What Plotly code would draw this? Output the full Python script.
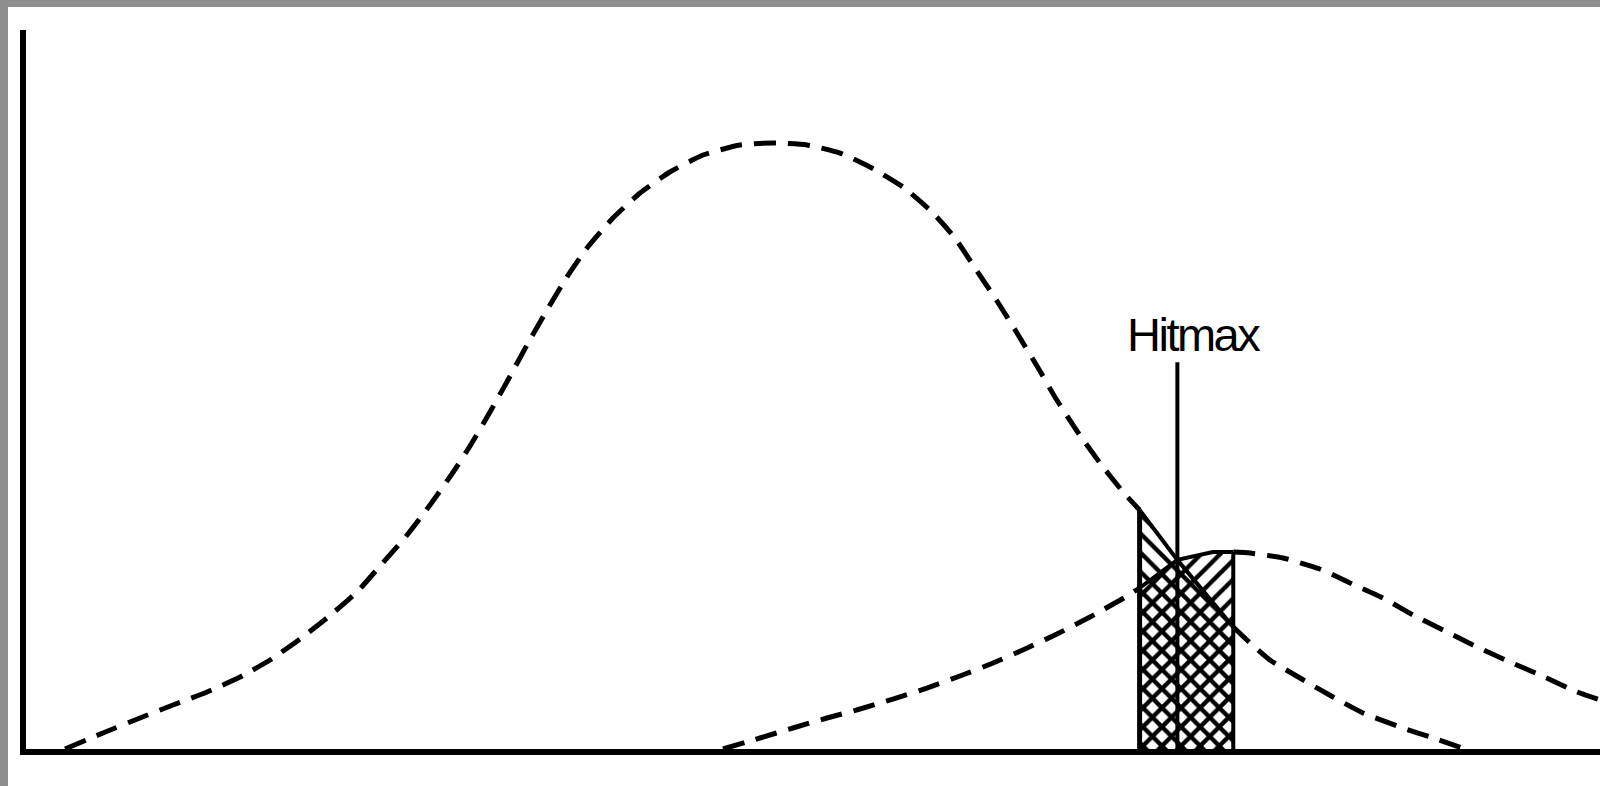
import numpy as np
import plotly.graph_objects as go

# Score distributions (arbitrary units): non-masters (left) and masters (right)
nonmaster_x = [2.48, 4.89, 7.24, 9.34, 11.50, 13.60, 15.50, 17.41, 19.12, 21.03, 22.49,
               24.21, 25.67, 27.06, 28.21, 29.48, 30.62, 31.83, 33.10, 34.37, 35.64,
               37.29, 39.01, 40.91, 43.01, 45.36, 47.46, 49.62, 51.72, 53.62, 55.72,
               57.56, 59.02, 60.29, 61.69, 62.96, 64.23, 65.37, 66.77, 68.23, 69.70,
               70.75, 73.15, 76.70, 77.57, 79.03, 80.94, 83.04, 84.94, 87.48, 89.20, 91.42]
nonmaster_y = [0.0, 2.23, 4.31, 6.12, 7.93, 10.01, 12.38, 15.30, 18.22, 21.84, 25.45,
               29.76, 33.94, 38.25, 42.14, 46.87, 51.32, 56.19, 61.06, 65.65, 69.68,
               73.85, 77.33, 80.25, 82.61, 84.01, 84.28, 84.01, 82.89, 80.95, 78.16,
               74.69, 71.07, 66.90, 62.31, 57.86, 53.27, 48.96, 44.23, 39.78, 35.74,
               33.24, 26.30, 16.97, 15.16, 12.38, 9.87, 7.23, 5.01, 2.92, 1.67, 0.0]

master_x = [44.28, 46.63, 48.73, 50.89, 52.99, 55.08, 57.24, 59.34, 61.44, 63.47, 65.50,
            67.60, 69.63, 70.75, 73.15, 75.41, 76.70, 77.76, 79.86, 82.21, 84.12, 86.21,
            88.12, 90.28, 92.19, 94.28, 96.19, 98.54, 100.0]
master_y = [0.0, 1.53, 2.92, 4.31, 5.56, 6.95, 8.48, 10.15, 11.96, 13.91, 15.99,
            18.36, 20.86, 22.39, 26.30, 27.40, 27.40, 27.26, 26.56, 25.03, 23.09, 21.00,
            18.64, 16.27, 14.19, 12.10, 10.29, 7.93, 6.82]

# Cut-score band and the Hitmax point
band_lo = 70.75
band_hi = 76.70
hitmax_x = 73.15
hitmax_top = 53.8
hitmax_label = "Hitmax"

nx, ny = np.array(nonmaster_x), np.array(nonmaster_y)
mx, my = np.array(master_x), np.array(master_y)

BLACK = "black"
DASH = "22px,12px"

fig = go.Figure()


def dashed(x, y):
    fig.add_trace(go.Scatter(x=x, y=y, mode="lines",
                             line=dict(color=BLACK, width=5, dash=DASH,
                                       shape="spline", smoothing=0.5),
                             hoverinfo="skip", showlegend=False))


# dashed parts of both curves outside the band
dashed(nx[nx <= band_lo], ny[nx <= band_lo])
dashed(nx[nx >= band_hi], ny[nx >= band_hi])
dashed(mx[mx <= band_lo], my[mx <= band_lo])
dashed(mx[mx >= band_hi], my[mx >= band_hi])

# hatched areas under each curve inside the band
for xs, ys, shape in [(nx, ny, "\\"), (mx, my, "/")]:
    inside = (xs >= band_lo) & (xs <= band_hi)
    fig.add_trace(go.Scatter(
        x=xs[inside], y=ys[inside], mode="lines", fill="tozeroy",
        fillcolor="rgba(0,0,0,0)",
        fillpattern=dict(shape=shape, fgcolor=BLACK, fgopacity=1, size=13.5,
                         solidity=0.32, fillmode="overlay"),
        line=dict(color=BLACK, width=4),
        hoverinfo="skip", showlegend=False))

# band edges
y_lo_edge = float(ny[nx == band_lo][0])
y_hi_edge = float(my[mx == band_hi][0])
fig.add_trace(go.Scatter(x=[band_lo, band_lo], y=[0, y_lo_edge], mode="lines",
                         line=dict(color=BLACK, width=5),
                         hoverinfo="skip", showlegend=False))
fig.add_trace(go.Scatter(x=[band_hi, band_hi], y=[0, y_hi_edge], mode="lines",
                         line=dict(color=BLACK, width=4),
                         hoverinfo="skip", showlegend=False))

# Hitmax marker line
fig.add_trace(go.Scatter(x=[hitmax_x, hitmax_x], y=[0, hitmax_top], mode="lines",
                         line=dict(color=BLACK, width=4),
                         hoverinfo="skip", showlegend=False))

fig.add_annotation(x=hitmax_x + 1.05, y=hitmax_top + 3.8,
                   text='<span style="letter-spacing:-2.5px">' + hitmax_label + '</span>',
                   showarrow=False, xanchor="center", yanchor="middle",
                   font=dict(family="Liberation Sans, Arial", size=47, color=BLACK))

axis_style = dict(range=[0, 100], showline=True, linewidth=6, linecolor=BLACK,
                  showgrid=False, zeroline=False, showticklabels=False, ticks="",
                  fixedrange=True)

L, B, T = 26, 749, 30
W, H = 1600, 786
pw, ph = W - L, B - T


def px_x(p):
    return (p - L) / pw


def px_y(p):
    return (B - p) / ph


GRAY = "#8e8e8e"
shapes = [
    dict(type="rect", xref="paper", yref="paper", x0=px_x(0), x1=1.0,
         y0=px_y(7), y1=px_y(0), fillcolor=GRAY, line=dict(width=0), layer="above"),
    dict(type="rect", xref="paper", yref="paper", x0=px_x(0), x1=px_x(8),
         y0=px_y(W), y1=px_y(0), fillcolor=GRAY, line=dict(width=0), layer="above"),
]

fig.update_layout(
    width=W, height=H,
    margin=dict(l=L, r=0, t=T, b=H - B, pad=0),
    paper_bgcolor="white", plot_bgcolor="white",
    xaxis=axis_style, yaxis=axis_style,
    shapes=shapes, showlegend=False,
)

fig.write_html("out.html", config={"displayModeBar": False})
